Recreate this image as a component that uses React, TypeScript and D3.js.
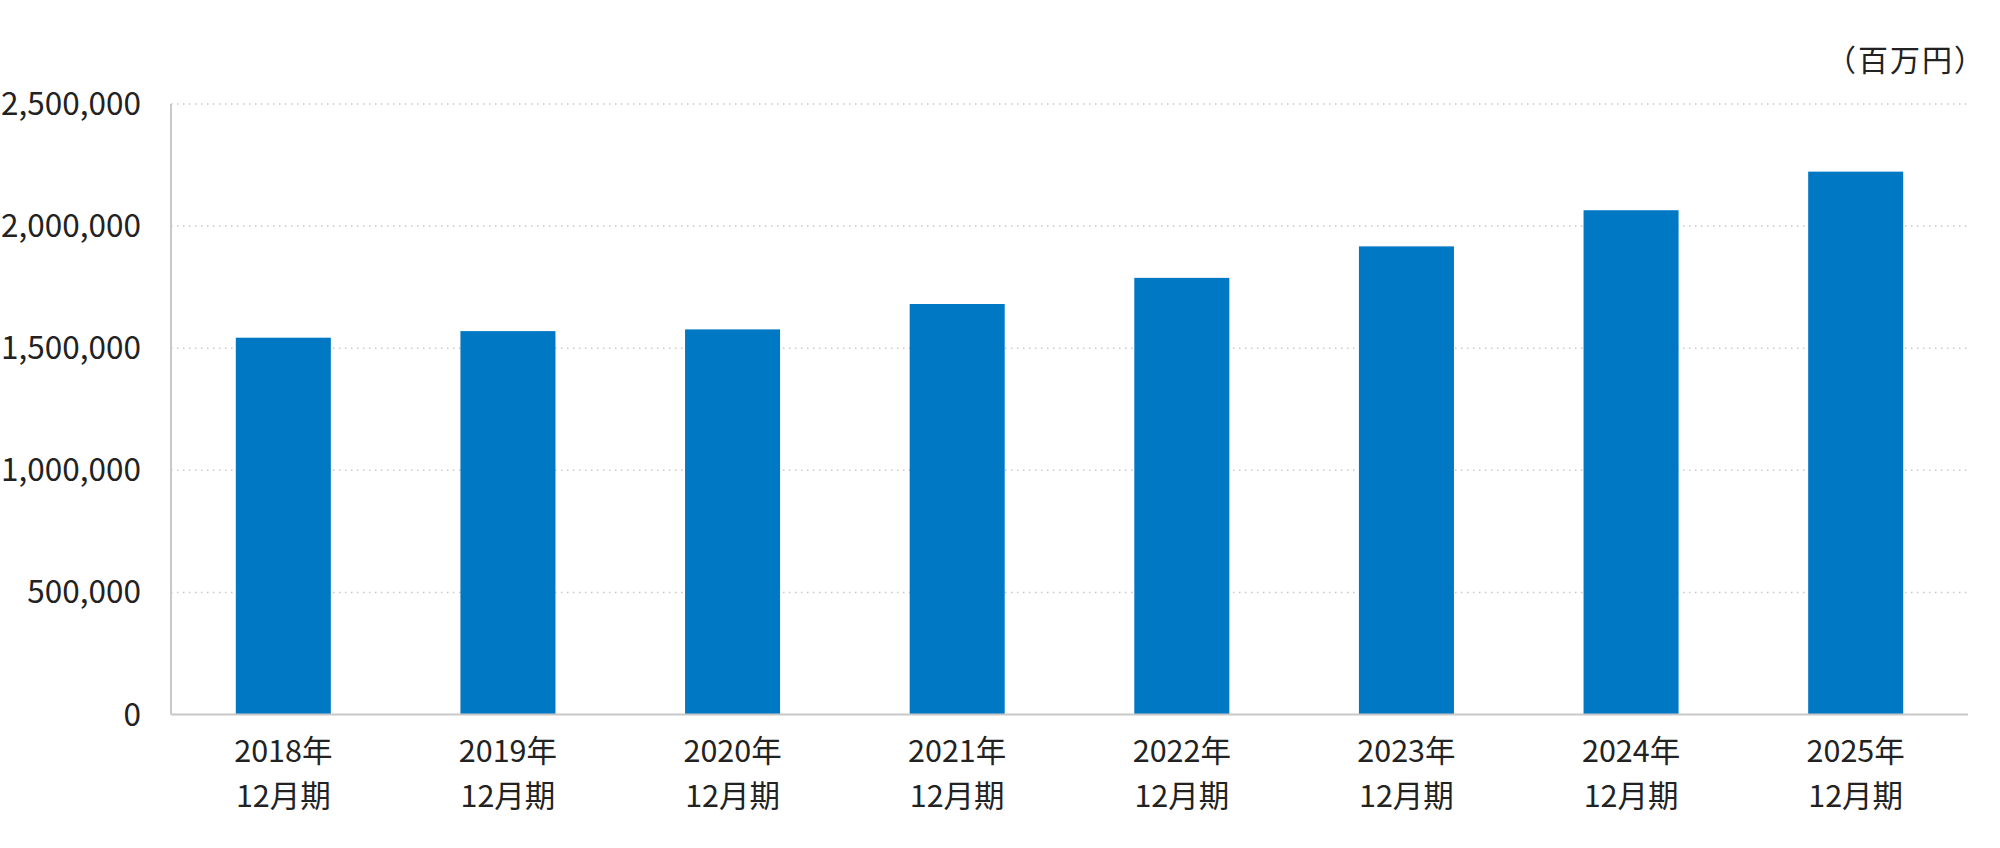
import React from "react";
import * as d3 from "d3";

const categories = ["2018年", "2019年", "2020年", "2021年", "2022年", "2023年", "2024年", "2025年"];
const subLabel = "12月期";
const values = [1543000, 1570000, 1577000, 1681000, 1788000, 1917000, 2065000, 2223000];
const yTicks = [0, 500000, 1000000, 1500000, 2000000, 2500000];
const unitLabel = "（百万円）";

const W = 2000;
const H = 848;
const FONT = "'Noto Sans CJK JP', 'Noto Sans', sans-serif";

export default function App() {
  const left = 171;
  const right = 1968;
  const top = 104;
  const bottom = 714.5;

  const x = d3
    .scaleBand<string>()
    .domain(categories)
    .range([left, right])
    .paddingInner(0.577)
    .paddingOuter(0.2885);
  const y = d3.scaleLinear().domain([0, 2500000]).range([bottom, top]);
  const fmt = d3.format(",");

  return (
    <div style={{ position: "absolute", left: 0, top: 0 }}>
      <svg width={W} height={H} style={{ display: "block", background: "#fff" }}>
        {yTicks
          .filter((t) => t > 0)
          .map((t) => (
            <line
              key={"g" + t}
              x1={left}
              x2={right}
              y1={y(t)}
              y2={y(t)}
              stroke="#c8c8c8"
              strokeWidth={1.5}
              strokeDasharray="1.5,4.5"
            />
          ))}
        {categories.map((c, i) => (
          <rect
            key={c}
            x={x(c)}
            y={y(values[i])}
            width={x.bandwidth()}
            height={y(0) - y(values[i])}
            fill="#0078c3"
          />
        ))}
        <line x1={left} x2={left} y1={top} y2={bottom} stroke="#c8c8c8" strokeWidth={2} />
        <line x1={left} x2={right} y1={bottom} y2={bottom} stroke="#c8c8c8" strokeWidth={2} />
        {yTicks.map((t) => (
          <text
            key={"t" + t}
            x={141}
            y={y(t)}
            dy="0.35em"
            textAnchor="end"
            fontFamily={FONT}
            fontSize={31.5}
            fill="#222"
          >
            {fmt(t)}
          </text>
        ))}
        {categories.map((c) => {
          const cx = (x(c) as number) + x.bandwidth() / 2;
          return (
            <g key={"l" + c}>
              <text x={cx} y={751.5} dy="0.35em" textAnchor="middle" fontFamily={FONT} fontSize={30.5} fill="#222">
                {c}
              </text>
              <text x={cx} y={796} dy="0.35em" textAnchor="middle" fontFamily={FONT} fontSize={30.5} fill="#222">
                {subLabel}
              </text>
            </g>
          );
        })}
        <text
          x={1986}
          y={60}
          dy="0.35em"
          textAnchor="end"
          fontFamily={FONT}
          fontSize={30}
          letterSpacing={2}
          fill="#222"
        >
          {unitLabel}
        </text>
      </svg>
    </div>
  );
}
